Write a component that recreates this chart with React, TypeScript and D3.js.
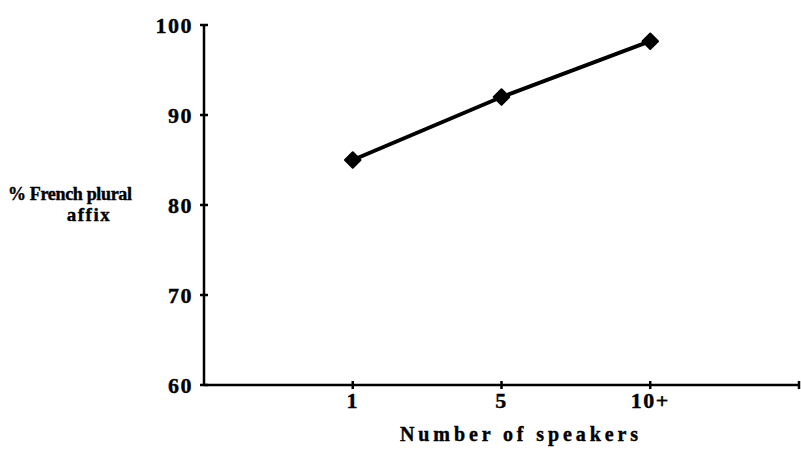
import React, { useEffect, useRef } from "react";
import * as d3 from "d3";

const categories = ["1", "5", "10+"];
const percentFrench = [85, 92, 98.2];
const yTicks = [60, 70, 80, 90, 100];

export default function App() {
  const ref = useRef<SVGSVGElement | null>(null);
  useEffect(() => {
    const svg = d3.select(ref.current);
    svg.selectAll("*").remove();
    const x = d3.scaleLinear().domain([0, categories.length + 1]).range([204, 799]);
    const y = d3.scaleLinear().domain([60, 100]).range([385, 25]);
    const font = "'Liberation Serif', 'Times New Roman', serif";
    const g = svg.append("g");

    // axes
    g.append("line").attr("x1", x(0)).attr("x2", x(0)).attr("y1", y(100)).attr("y2", y(60))
      .attr("stroke", "#000").attr("stroke-width", 2.5);
    g.append("line").attr("x1", x(0)).attr("x2", x(4)).attr("y1", y(60)).attr("y2", y(60))
      .attr("stroke", "#000").attr("stroke-width", 2.5);
    g.selectAll(".yt").data(yTicks).enter().append("line")
      .attr("x1", x(0) - 4).attr("x2", x(0) + 4)
      .attr("y1", (d) => y(d)).attr("y2", (d) => y(d))
      .attr("stroke", "#000").attr("stroke-width", 2.5);
    g.selectAll(".yl").data(yTicks).enter().append("text")
      .attr("x", 193).attr("y", (d) => y(d)).attr("dy", "0.36em")
      .attr("text-anchor", "end").attr("font-family", font).attr("font-weight", "bold")
      .attr("font-size", 22).attr("letter-spacing", 1.5).attr("stroke", "#000").attr("stroke-width", 0.4)
      .text((d) => d);
    const xt = [1, 2, 3, 4];
    g.selectAll(".xt").data(xt).enter().append("line")
      .attr("x1", (d) => x(d)).attr("x2", (d) => x(d))
      .attr("y1", y(60) - 4).attr("y2", y(60) + 4)
      .attr("stroke", "#000").attr("stroke-width", 2.5);
    g.selectAll(".xl").data(categories).enter().append("text")
      .attr("x", (_d, i) => x(i + 1)).attr("y", 408)
      .attr("text-anchor", "middle").attr("font-family", font).attr("font-weight", "bold")
      .attr("font-size", 22).attr("letter-spacing", 1.5).attr("stroke", "#000").attr("stroke-width", 0.4)
      .text((d) => d);
    g.append("text").attr("x", 400).attr("y", 441)
      .attr("font-family", font).attr("font-weight", "bold").attr("font-size", 20)
      .attr("stroke", "#000").attr("stroke-width", 0.4)
      .attr("textLength", 238).attr("lengthAdjust", "spacing").text("Number of speakers");
    g.append("text").attr("x", 8).attr("y", 200)
      .attr("font-family", font).attr("font-weight", "bold").attr("font-size", 18)
      .attr("stroke", "#000").attr("stroke-width", 0.4)
      .attr("textLength", 124).attr("lengthAdjust", "spacing").text("% French plural");
    g.append("text").attr("x", 89).attr("y", 221).attr("text-anchor", "middle")
      .attr("font-family", font).attr("font-weight", "bold").attr("font-size", 19)
      .attr("letter-spacing", 1.5)
      .attr("stroke", "#000").attr("stroke-width", 0.4).text("affix");

    // line
    const line = d3.line<number>().x((_d, i) => x(i + 1)).y((d) => y(d));
    g.append("path").datum(percentFrench).attr("d", line).attr("fill", "none")
      .attr("stroke", "#000").attr("stroke-width", 4);
    const sym = d3.symbol().type(d3.symbolSquare).size(120);
    g.selectAll(".pt").data(percentFrench).enter().append("path")
      .attr("d", sym as any)
      .attr("transform", (d, i) => `translate(${x(i + 1)},${y(d)}) rotate(45)`)
      .attr("fill", "#000").attr("stroke", "#000").attr("stroke-width", 2).attr("stroke-linejoin", "round");
  }, []);
  return (
    <svg ref={ref} width={801} height={449} style={{ position: "absolute", left: 0, top: 0, background: "#fff" }} />
  );
}
